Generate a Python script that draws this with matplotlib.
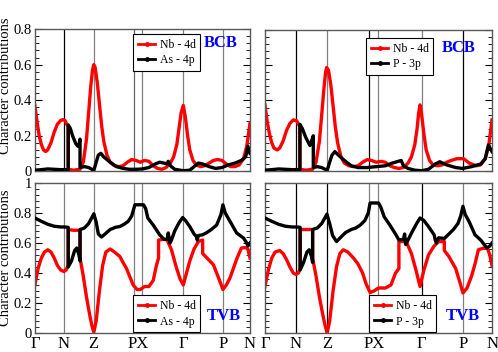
import matplotlib
matplotlib.use('Agg')
import matplotlib.pyplot as plt
from matplotlib.lines import Line2D
from matplotlib.ticker import MultipleLocator

plt.rcParams['font.family'] = ['Liberation Serif', 'DejaVu Serif']

# high symmetry points along the k-path (fraction of path length)
kpts = [0.0, 0.135, 0.274, 0.46, 0.50, 0.69, 0.874, 1.0]
klabel_pos = [0.0, 0.135, 0.274, 0.48, 0.69, 0.874, 1.0]
klabels = ['Γ', 'N', 'Z', 'PX', 'Γ', 'P', 'N']

# ---- NbAs, bottom of conduction band (BCB)
k_as_bcb_nb = [0, 0.01, 0.02, 0.03, 0.04, 0.05, 0.06, 0.075, 0.09, 0.105, 0.12, 0.13, 0.14, 0.15, 0.155,
               0.155, 0.18, 0.21, 0.225, 0.24, 0.25, 0.26, 0.268, 0.274, 0.28, 0.29, 0.30, 0.31, 0.32,
               0.335, 0.35, 0.37, 0.39, 0.41, 0.43, 0.45, 0.47, 0.49, 0.51, 0.53, 0.55, 0.57, 0.59,
               0.61, 0.63, 0.645, 0.66, 0.67, 0.68, 0.69, 0.70, 0.71, 0.72, 0.735, 0.75, 0.77, 0.79,
               0.81, 0.83, 0.85, 0.87, 0.89, 0.91, 0.93, 0.95, 0.97, 0.985, 1.0]
as_bcb_nb = [0.37, 0.28, 0.20, 0.15, 0.12, 0.11, 0.12, 0.16, 0.22, 0.265, 0.285, 0.29, 0.285, 0.26, 0.25,
             0.01, 0.005, 0.01, 0.05, 0.18, 0.33, 0.48, 0.57, 0.60, 0.585, 0.50, 0.38, 0.26, 0.17,
             0.09, 0.05, 0.03, 0.025, 0.03, 0.05, 0.065, 0.06, 0.05, 0.06, 0.055, 0.03, 0.015, 0.01,
             0.02, 0.045, 0.08, 0.15, 0.24, 0.33, 0.37, 0.30, 0.20, 0.12, 0.06, 0.035, 0.025, 0.03,
             0.045, 0.06, 0.065, 0.06, 0.04, 0.025, 0.025, 0.035, 0.07, 0.14, 0.27]
k_as_bcb_p = [0, 0.03, 0.06, 0.09, 0.12, 0.14, 0.155, 0.155, 0.165, 0.175, 0.19, 0.20, 0.205, 0.21,
              0.21, 0.23, 0.25, 0.265, 0.274, 0.285, 0.295, 0.307, 0.32, 0.35, 0.38, 0.41, 0.44, 0.47,
              0.50, 0.53, 0.56, 0.58, 0.60, 0.615, 0.62, 0.63, 0.65, 0.69, 0.72, 0.745, 0.76, 0.78,
              0.81, 0.84, 0.87, 0.90, 0.93, 0.96, 0.98, 0.99, 1.0]
as_bcb_p = [0.005, 0.008, 0.012, 0.01, 0.008, 0.008, 0.008, 0.26, 0.24, 0.20, 0.155, 0.14, 0.15, 0.18,
            0.02, 0.025, 0.02, 0.01, 0.003, 0.05, 0.09, 0.10, 0.08, 0.05, 0.025, 0.015, 0.01, 0.01,
            0.012, 0.02, 0.04, 0.05, 0.045, 0.04, 0.055, 0.03, 0.01, 0.002, 0.005, 0.03, 0.045, 0.04,
            0.025, 0.015, 0.02, 0.035, 0.045, 0.06, 0.08, 0.14, 0.10]

# ---- NbP, bottom of conduction band (BCB)
k_p_bcb_nb = [0, 0.01, 0.02, 0.03, 0.04, 0.054, 0.065, 0.08, 0.095, 0.11, 0.125, 0.14, 0.15, 0.154,
              0.154, 0.18, 0.21, 0.225, 0.24, 0.25, 0.26, 0.267, 0.272, 0.28, 0.29, 0.30, 0.31, 0.32,
              0.335, 0.35, 0.37, 0.39, 0.41, 0.43, 0.45, 0.47, 0.49, 0.51, 0.53, 0.55, 0.57, 0.59,
              0.61, 0.63, 0.645, 0.66, 0.67, 0.676, 0.683, 0.69, 0.70, 0.71, 0.725, 0.74, 0.76, 0.78,
              0.80, 0.82, 0.845, 0.875, 0.90, 0.93, 0.95, 0.97, 0.985, 1.0]
p_bcb_nb = [0.375, 0.28, 0.21, 0.16, 0.13, 0.12, 0.13, 0.17, 0.23, 0.27, 0.29, 0.285, 0.26, 0.25,
            0.01, 0.005, 0.01, 0.05, 0.17, 0.32, 0.47, 0.56, 0.587, 0.57, 0.49, 0.37, 0.25, 0.16,
            0.08, 0.045, 0.03, 0.025, 0.03, 0.05, 0.065, 0.06, 0.05, 0.055, 0.05, 0.03, 0.02, 0.015,
            0.02, 0.045, 0.08, 0.15, 0.24, 0.32, 0.375, 0.32, 0.21, 0.12, 0.06, 0.035, 0.03, 0.035,
            0.05, 0.06, 0.07, 0.07, 0.045, 0.03, 0.035, 0.07, 0.14, 0.29]
k_p_bcb_p = [0, 0.03, 0.06, 0.09, 0.12, 0.14, 0.154, 0.154, 0.165, 0.18, 0.198, 0.205, 0.213,
             0.213, 0.23, 0.25, 0.265, 0.274, 0.285, 0.295, 0.308, 0.32, 0.35, 0.38, 0.41, 0.45,
             0.49, 0.53, 0.56, 0.60, 0.61, 0.63, 0.66, 0.69, 0.72, 0.75, 0.77, 0.80, 0.84, 0.87,
             0.91, 0.95, 0.97, 0.984, 1.0]
p_bcb_p = [0.005, 0.008, 0.012, 0.01, 0.008, 0.008, 0.008, 0.265, 0.24, 0.19, 0.145, 0.17, 0.20,
           0.02, 0.025, 0.02, 0.01, 0.003, 0.05, 0.09, 0.11, 0.095, 0.06, 0.03, 0.02, 0.02,
           0.025, 0.03, 0.045, 0.06, 0.03, 0.015, 0.005, 0.002, 0.01, 0.04, 0.053, 0.035, 0.02, 0.015,
           0.025, 0.04, 0.07, 0.148, 0.11]

# ---- NbAs, top of valence band (TVB)
k_as_tvb_nb = [0, 0.015, 0.03, 0.045, 0.06, 0.075, 0.09, 0.105, 0.12, 0.135, 0.145, 0.155,
               0.155, 0.18, 0.21, 0.21, 0.225, 0.24, 0.255, 0.265, 0.274, 0.285, 0.30, 0.315, 0.33,
               0.35, 0.37, 0.395, 0.41, 0.426, 0.44, 0.457, 0.475, 0.49, 0.51, 0.53, 0.55, 0.565,
               0.575, 0.575, 0.60, 0.615, 0.635, 0.655, 0.675, 0.69, 0.705, 0.72, 0.74, 0.76, 0.78,
               0.78, 0.80, 0.83, 0.86, 0.874, 0.89, 0.907, 0.925, 0.94, 0.96, 0.98, 0.99, 1.0]
as_tvb_nb = [0.32, 0.43, 0.50, 0.54, 0.555, 0.54, 0.50, 0.45, 0.42, 0.41, 0.42, 0.45,
             0.69, 0.685, 0.685, 0.50, 0.38, 0.24, 0.12, 0.05, 0.005, 0.08, 0.28, 0.45, 0.54,
             0.56, 0.54, 0.51, 0.47, 0.43, 0.38, 0.32, 0.29, 0.29, 0.31, 0.31, 0.35, 0.45,
             0.50, 0.62, 0.625, 0.62, 0.555, 0.45, 0.36, 0.32, 0.40, 0.48, 0.56, 0.61, 0.62,
             0.53, 0.50, 0.455, 0.345, 0.29, 0.32, 0.367, 0.44, 0.50, 0.567, 0.57, 0.56, 0.50]
k_as_tvb_p = [0, 0.03, 0.06, 0.09, 0.12, 0.135, 0.155, 0.155, 0.17, 0.185, 0.195, 0.205, 0.21,
              0.21, 0.23, 0.25, 0.265, 0.274, 0.285, 0.295, 0.31, 0.33, 0.35, 0.375, 0.395, 0.415,
              0.434, 0.45, 0.465, 0.505, 0.515, 0.525, 0.55, 0.58, 0.60, 0.615, 0.62, 0.628, 0.635,
              0.65, 0.67, 0.687, 0.70, 0.72, 0.74, 0.75, 0.755, 0.76, 0.78, 0.80, 0.82, 0.845,
              0.865, 0.874, 0.885, 0.907, 0.938, 0.97, 0.985, 0.99, 1.0]
as_tvb_p = [0.767, 0.745, 0.725, 0.712, 0.707, 0.707, 0.705, 0.44, 0.48, 0.55, 0.567, 0.52, 0.48,
            0.69, 0.70, 0.73, 0.77, 0.795, 0.74, 0.66, 0.64, 0.665, 0.69, 0.705, 0.71, 0.725,
            0.745, 0.78, 0.855, 0.855, 0.83, 0.767, 0.72, 0.655, 0.625, 0.625, 0.667, 0.60, 0.62,
            0.68, 0.735, 0.77, 0.75, 0.71, 0.66, 0.645, 0.62, 0.65, 0.655, 0.67, 0.69, 0.72,
            0.79, 0.855, 0.80, 0.745, 0.667, 0.633, 0.60, 0.58, 0.60]

# ---- NbP, top of valence band (TVB)
k_p_tvb_nb = [0, 0.015, 0.03, 0.045, 0.065, 0.08, 0.095, 0.11, 0.125, 0.137, 0.147, 0.155,
              0.155, 0.18, 0.21, 0.21, 0.225, 0.24, 0.255, 0.265, 0.274, 0.285, 0.30, 0.315, 0.33,
              0.345, 0.365, 0.39, 0.41, 0.43, 0.445, 0.463, 0.48, 0.50, 0.53, 0.555, 0.575, 0.59,
              0.59, 0.61, 0.625, 0.645, 0.665, 0.683, 0.70, 0.72, 0.745, 0.765, 0.79, 0.79, 0.81,
              0.84, 0.86, 0.872, 0.89, 0.91, 0.925, 0.94, 0.96, 0.98, 0.99, 1.0]
p_tvb_nb = [0.31, 0.42, 0.50, 0.54, 0.55, 0.53, 0.49, 0.44, 0.40, 0.39, 0.40, 0.43,
            0.69, 0.69, 0.69, 0.50, 0.38, 0.24, 0.12, 0.05, 0.0, 0.08, 0.28, 0.44, 0.53,
            0.555, 0.54, 0.50, 0.46, 0.40, 0.33, 0.27, 0.28, 0.30, 0.30, 0.32, 0.40, 0.43,
            0.61, 0.61, 0.60, 0.53, 0.42, 0.31, 0.42, 0.52, 0.58, 0.61, 0.61,
            0.55, 0.51, 0.43, 0.33, 0.267, 0.30, 0.38, 0.46, 0.555, 0.565, 0.565, 0.52, 0.45]
k_p_tvb_p = [0, 0.03, 0.06, 0.09, 0.12, 0.137, 0.155, 0.155, 0.17, 0.185, 0.195, 0.205, 0.21,
             0.21, 0.23, 0.25, 0.265, 0.273, 0.285, 0.298, 0.315, 0.335, 0.355, 0.38, 0.40,
             0.42, 0.44, 0.455, 0.463, 0.50, 0.51, 0.525, 0.55, 0.575, 0.59, 0.61, 0.615, 0.62,
             0.63, 0.65, 0.67, 0.683, 0.70, 0.72, 0.745, 0.75, 0.755, 0.765, 0.79, 0.81, 0.83,
             0.85, 0.862, 0.872, 0.882, 0.90, 0.925, 0.95, 0.977, 0.99, 1.0]
p_tvb_p = [0.767, 0.745, 0.725, 0.712, 0.707, 0.707, 0.705, 0.42, 0.47, 0.54, 0.555, 0.51, 0.47,
           0.69, 0.70, 0.73, 0.77, 0.793, 0.73, 0.65, 0.61, 0.64, 0.67, 0.69, 0.70,
           0.72, 0.75, 0.80, 0.867, 0.867, 0.84, 0.775, 0.72, 0.66, 0.62, 0.625, 0.66, 0.59,
           0.62, 0.68, 0.735, 0.767, 0.75, 0.71, 0.655, 0.62, 0.60, 0.635, 0.63, 0.66, 0.69,
           0.73, 0.78, 0.845, 0.79, 0.74, 0.655, 0.62, 0.567, 0.58, 0.60]

panels = [
    # rect (fig fraction), nb data, second data, second label, tag, ymax, vline colours
    ([0.070, 0.514, 0.432, 0.403], (k_as_bcb_nb, as_bcb_nb), (k_as_bcb_p, as_bcb_p), 'As - 4p', 'BCB', 0.8,
     ['k', '0.5', '0.4', '0.5', '0.5', '0.5']),
    ([0.532, 0.514, 0.456, 0.401], (k_p_bcb_nb, p_bcb_nb), (k_p_bcb_p, p_bcb_p), 'P - 3p', 'BCB', 0.8,
     ['k', '0.5', 'k', '0.5', '0.5', 'k']),
    ([0.070, 0.054, 0.432, 0.426], (k_as_tvb_nb, as_tvb_nb), (k_as_tvb_p, as_tvb_p), 'As - 4p', 'TVB', 1.0,
     ['0.5', '0.5', '0.5', '0.5', '0.5', '0.5']),
    ([0.532, 0.054, 0.456, 0.426], (k_p_tvb_nb, p_tvb_nb), (k_p_tvb_p, p_tvb_p), 'P - 3p', 'TVB', 1.0,
     ['k', 'k', '0.5', '0.5', 'k', '0.5']),
]

fig = plt.figure(figsize=(4.98, 3.52), dpi=100)

for i, (rect, nb, other, other_lab, tag, ymax, vcols) in enumerate(panels):
    ax = fig.add_axes(rect)
    for xk, c in zip(kpts[1:-1], vcols):
        ax.axvline(xk, color=c, lw=0.9, zorder=1)
    ax.plot(nb[0], nb[1], color='red', lw=2.4, zorder=2)
    ax.plot(other[0], other[1], color='black', lw=2.4, zorder=3)
    ax.set_xlim(0, 1)
    ax.set_ylim(0, ymax)
    ax.yaxis.set_major_locator(MultipleLocator(0.2))
    ax.yaxis.set_minor_locator(MultipleLocator(0.04))
    ax.tick_params(axis='y', which='both', direction='in', left=True, right=True, labelsize=10.5, pad=2)
    ax.tick_params(axis='y', which='major', length=5)
    ax.tick_params(axis='y', which='minor', length=3)
    ax.tick_params(axis='x', length=0, labelsize=12, pad=2)
    ax.set_xticks(klabel_pos)
    if i >= 2:
        ax.set_xticklabels(klabels)
    else:
        ax.set_xticklabels([])
    if i % 2 == 0:
        ax.set_yticks([0, 0.2, 0.4, 0.6, 0.8] + ([1.0] if ymax == 1.0 else []))
        ax.set_yticklabels(['0', '0.2', '0.4', '0.6', '0.8'] + (['1'] if ymax == 1.0 else []))
        ax.set_ylabel('Character contributions', fontsize=10.5)
        ax.yaxis.set_label_coords(-0.105, 0.6 if i == 0 else 0.5)
    else:
        ax.set_yticklabels([])
    for s in ax.spines.values():
        s.set_color('0.35')
        s.set_linewidth(1.0)

    handles = [Line2D([], [], color='red', lw=2, marker='o', markersize=2.5),
               Line2D([], [], color='black', lw=2, marker='o', markersize=2.5)]
    leg_kw = dict(fontsize=8.5, handlelength=1.5, handletextpad=0.35, borderpad=0.4,
                  labelspacing=0.3, borderaxespad=0, fancybox=False, framealpha=1)
    if tag == 'BCB':
        lx = 0.456 if i == 0 else 0.445
        leg = ax.legend(handles, ['Nb - 4d', other_lab], loc='upper left',
                        bbox_to_anchor=(lx, 0.965 if i == 0 else 0.943), **leg_kw)
        ax.text(0.865 if i == 0 else 0.855, 0.90 if i == 0 else 0.872, 'BCB', transform=ax.transAxes,
                ha='center', va='center', color='blue', fontsize=12, fontweight='bold')
    else:
        leg = ax.legend(handles, ['Nb - 4d', other_lab], loc='lower left',
                        bbox_to_anchor=(0.456 if i == 2 else 0.458, 0.005), **leg_kw)
        ax.text(0.88 if i == 2 else 0.872, 0.11, 'TVB', transform=ax.transAxes,
                ha='center', va='center', color='blue', fontsize=12, fontweight='bold')
    leg.get_frame().set_edgecolor('black')
    leg.get_frame().set_linewidth(0.8)
    leg.set_zorder(5)

fig.savefig('out.png', dpi=100)
